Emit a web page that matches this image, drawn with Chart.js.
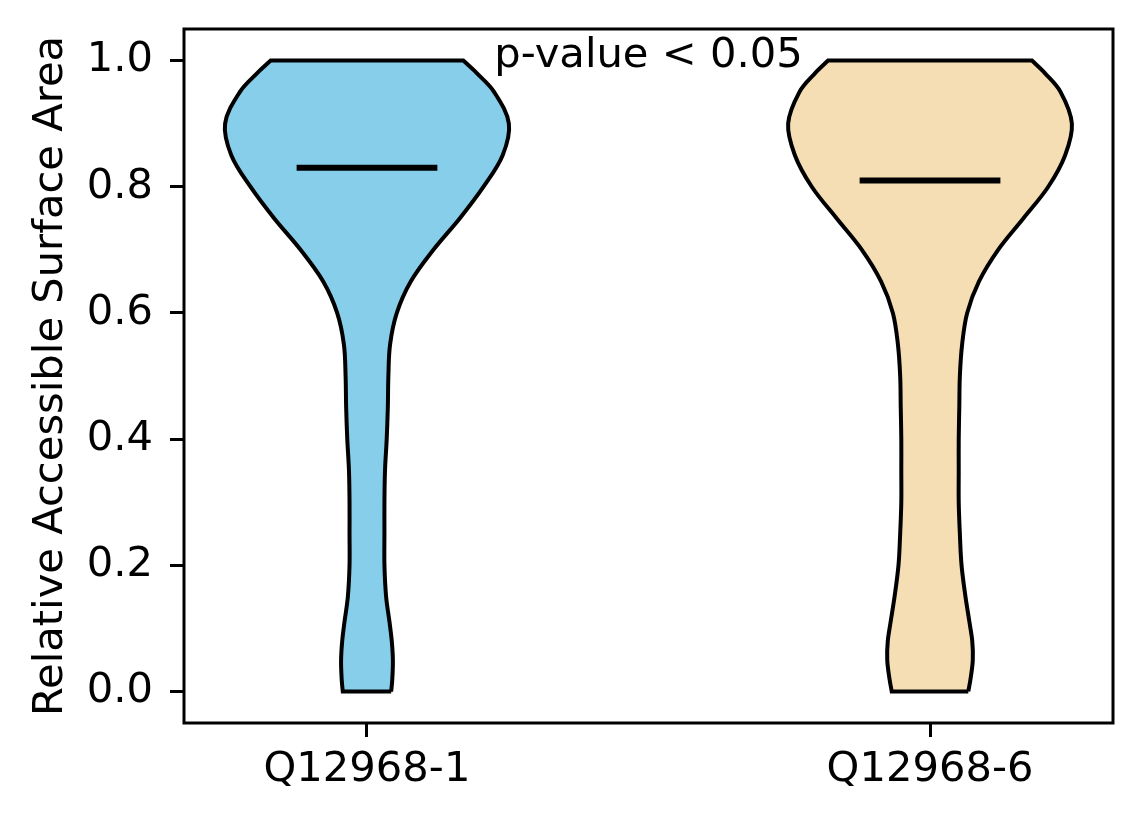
<!DOCTYPE html>
<html>
<head>
<meta charset="utf-8">
<script src="https://cdn.jsdelivr.net/npm/chart.js@4.4.1/dist/chart.umd.min.js"></script>
<style>
  html, body { margin: 0; padding: 0; background: #fff; }
</style>
</head>
<body>
<canvas id="violinChart" width="1144" height="824"></canvas>
<script>
// Violin data
const categories = ['Q12968-1', 'Q12968-6'];
const positions = [1, 2];
// RSA levels where the outline half-width was read
const rsaLevels = [0, 0.02, 0.05, 0.08, 0.11, 0.15, 0.2, 0.25, 0.3, 0.35, 0.4, 0.45, 0.5, 0.55, 0.6, 0.65, 0.7, 0.75, 0.8, 0.85, 0.9, 0.95, 0.98, 1.0];
const halfWidthQ1 = [0.043, 0.045, 0.046, 0.044, 0.040, 0.034, 0.031, 0.031, 0.031, 0.032, 0.035, 0.037, 0.038, 0.041, 0.053, 0.078, 0.118, 0.165, 0.207, 0.241, 0.252, 0.226, 0.195, 0.171];
const halfWidthQ6 = [0.068, 0.072, 0.076, 0.075, 0.070, 0.063, 0.056, 0.053, 0.051, 0.051, 0.051, 0.052, 0.053, 0.057, 0.066, 0.087, 0.121, 0.166, 0.210, 0.240, 0.252, 0.232, 0.204, 0.181];
const medians = [0.83, 0.81];
const yTickValues = [0, 0.2, 0.4, 0.6, 0.8, 1.0];
const pValueText = 'p-value < 0.05';

const violinColors = ['#87CEEB', '#F5DEB3'];
const FONT = '"DejaVu Sans", "Liberation Sans", sans-serif';
const FONT_SIZE = 41.67;

Chart.defaults.font.family = FONT;
Chart.defaults.color = '#000';

// Outline: right side going up, left side coming down, back to start.
// Corner points are repeated so the bezier smoothing keeps them sharp.
function violinOutline(pos, widths) {
  const pts = [];
  const n = rsaLevels.length;
  for (let i = 0; i < n; i++) pts.push({ x: pos + widths[i], y: rsaLevels[i] });
  pts.push({ x: pos + widths[n - 1], y: rsaLevels[n - 1] });
  pts.push({ x: pos - widths[n - 1], y: rsaLevels[n - 1] });
  for (let i = n - 1; i >= 0; i--) pts.push({ x: pos - widths[i], y: rsaLevels[i] });
  pts.push({ x: pos - widths[0], y: rsaLevels[0] });
  pts.push({ x: pos + widths[0], y: rsaLevels[0] });
  return pts;
}

const widthsList = [halfWidthQ1, halfWidthQ6];

const medianSets = positions.map((p, i) => ({
  label: categories[i] + ' median',
  data: [{ x: p - 0.125, y: medians[i] }, { x: p + 0.125, y: medians[i] }],
  showLine: true,
  borderColor: '#000',
  borderWidth: 6,
  borderCapStyle: 'butt',
  pointRadius: 0,
  fill: false,
  tension: 0
}));

const violinSets = positions.map((p, i) => ({
  label: categories[i],
  data: violinOutline(p, widthsList[i]),
  showLine: true,
  borderColor: '#000',
  borderWidth: 4,
  borderJoinStyle: 'miter',
  backgroundColor: violinColors[i],
  fill: 'shape',
  pointRadius: 0,
  tension: 0.35
}));

// Full box round the plot area + p-value note
const framePlugin = {
  id: 'frame',
  afterDatasetsDraw(chart) {
    const { ctx, chartArea: a, scales } = chart;
    ctx.save();
    ctx.font = FONT_SIZE + 'px ' + FONT;
    ctx.fillStyle = '#000';
    ctx.textAlign = 'center';
    ctx.textBaseline = 'alphabetic';
    ctx.fillText(pValueText, scales.x.getPixelForValue(1.5), scales.y.getPixelForValue(0.99));
    ctx.strokeStyle = '#000';
    ctx.lineWidth = 3;
    ctx.strokeRect(a.left, a.top, a.right - a.left, a.bottom - a.top);
    ctx.restore();
  }
};

new Chart(document.getElementById('violinChart'), {
  type: 'scatter',
  data: { datasets: [...medianSets, ...violinSets] },
  options: {
    responsive: false,
    devicePixelRatio: 1,
    animation: false,
    layout: { padding: { left: 0, right: 31, top: 29, bottom: 0 } },
    plugins: { legend: { display: false }, tooltip: { enabled: false } },
    scales: {
      x: {
        type: 'linear',
        min: 0.675,
        max: 2.325,
        afterBuildTicks(scale) { scale.ticks = positions.map(v => ({ value: v })); },
        afterFit(scale) {
          scale.height = 101;
          scale.paddingLeft = 0;
          scale.paddingRight = 0;
        },
        ticks: {
          autoSkip: false,
          maxRotation: 0,
          padding: 8,
          font: { size: FONT_SIZE },
          callback: (v, i) => categories[i]
        },
        grid: { display: true, drawOnChartArea: false, drawTicks: true, tickLength: 14, color: '#000', lineWidth: 3 },
        border: { display: false }
      },
      y: {
        type: 'linear',
        min: -0.05,
        max: 1.05,
        afterBuildTicks(scale) { scale.ticks = yTickValues.map(v => ({ value: v })); },
        afterFit(scale) {
          scale.width = 184;
          scale.paddingTop = 0;
          scale.paddingBottom = 0;
        },
        ticks: {
          padding: 17,
          font: { size: FONT_SIZE },
          callback: v => v.toFixed(1)
        },
        grid: { display: true, drawOnChartArea: false, drawTicks: true, tickLength: 14, color: '#000', lineWidth: 3 },
        border: { display: false },
        title: {
          display: true,
          text: 'Relative Accessible Surface Area',
          font: { size: FONT_SIZE },
          padding: { top: 26, bottom: 0 }
        }
      }
    }
  },
  plugins: [framePlugin]
});
</script>
</body>
</html>
